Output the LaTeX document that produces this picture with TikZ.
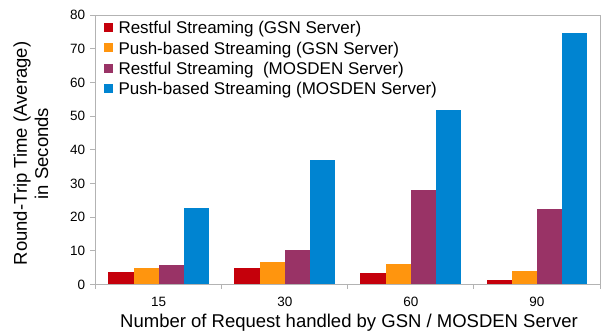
\documentclass[tikz,border=0pt]{standalone}
\usepackage{fontspec}
\setmainfont{Liberation Sans}
\definecolor{cRed}{HTML}{C5000B}
\definecolor{cOrange}{HTML}{FF950E}
\definecolor{cPurple}{HTML}{993366}
\definecolor{cBlue}{HTML}{0084D1}
\definecolor{axisgray}{HTML}{B3B3B3}
\tikzset{
  axisline/.style={draw=axisgray, line width=1pt},
  ticklab/.style={inner sep=0pt, font=\fontsize{13.5}{15}\selectfont},
  legtext/.style={inner sep=0pt, anchor=base west, font=\fontsize{17}{19}\selectfont},
  legbox/.style={inner sep=0pt, minimum size=9pt, draw=none},
  titlelab/.style={inner sep=0pt, font=\fontsize{18.5}{21}\selectfont},
}
\begin{document}
\begin{tikzpicture}[x=1pt,y=1pt]
\useasboundingbox (0,0) rectangle (603,331);
\fill[white] (0,0) rectangle (603,331);
\begin{scope}[shift={(95.7,46.3)}]
  % bars
  \def\cw{126.075}
  \def\bw{25.215}
  \def\vs{3.37}
  \foreach \v [count=\i from 0] in {3.75,5.0,3.5,1.4}
    \fill[cRed] ({\cw*\i+\bw*0.5},0) rectangle ({\cw*\i+\bw*1.5},{\v*\vs});
  \foreach \v [count=\i from 0] in {5.0,6.7,6.1,4.05}
    \fill[cOrange] ({\cw*\i+\bw*1.5},0) rectangle ({\cw*\i+\bw*2.5},{\v*\vs});
  \foreach \v [count=\i from 0] in {5.8,10.4,28.0,22.4}
    \fill[cPurple] ({\cw*\i+\bw*2.5},0) rectangle ({\cw*\i+\bw*3.5},{\v*\vs});
  \foreach \v [count=\i from 0] in {22.7,36.9,51.75,74.6}
    \fill[cBlue] ({\cw*\i+\bw*3.5},0) rectangle ({\cw*\i+\bw*4.5},{\v*\vs});
  % frame
  \draw[axisline] (0,0) rectangle (504.3,269.6);
  % y ticks and labels
  \foreach \t in {0,10,...,80} {
    \draw[axisline] (-5.5,{\t*\vs}) -- (0,{\t*\vs});
    \node[ticklab, anchor=east] (y\t) at (-10.4,{\t*\vs}) {\t};
  }
  % x ticks
  \foreach \i in {0,1,2,3,4}
    \draw[axisline] ({\cw*\i},0) -- ({\cw*\i},-4.7);
  \foreach \lab [count=\i from 0] in {15,30,60,90}
    \node[ticklab] (x\lab) at ({\cw*\i+\cw/2},-17.3) {\lab};
\end{scope}
% legend
\node[legbox, fill=cRed]    (k1) at (108.8,303.5) {};
\node[legbox, fill=cOrange] (k2) at (108.8,283.2) {};
\node[legbox, fill=cPurple] (k3) at (108.8,262.9) {};
\node[legbox, fill=cBlue]   (k4) at (108.8,242.6) {};
\node[legtext] (l1) at (118.3,297.0) {Restful Streaming (GSN Server)};
\node[legtext] (l2) at (118.3,276.7) {Push-based Streaming (GSN Server)};
\node[legtext] (l3) at (118.3,256.4) {Restful Streaming\ \ (MOSDEN Server)};
\node[legtext] (l4) at (118.3,236.1) {Push-based Streaming (MOSDEN Server)};
% axis titles
\node[titlelab, anchor=base] (xt) at (349,3.5) {Number of Request handled by GSN / MOSDEN Server};
\node[titlelab, anchor=base, rotate=90] (yt1) at (27,177.5) {Round-Trip Time (Average)};
\node[titlelab, anchor=base, rotate=90] (yt2) at (48,177.5) {in Seconds};
\end{tikzpicture}
\end{document}
